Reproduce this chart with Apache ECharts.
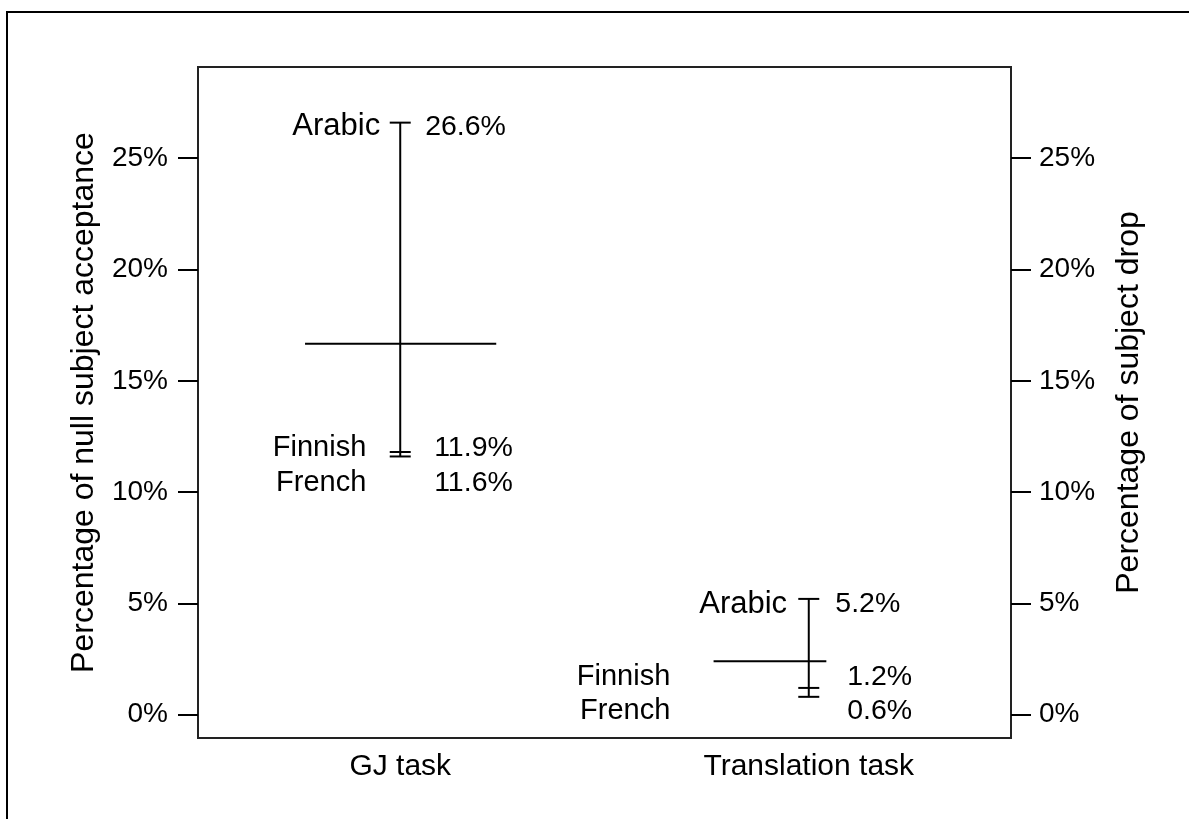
<!DOCTYPE html>
<html>
<head>
<meta charset="utf-8">
<script src="https://cdn.jsdelivr.net/npm/echarts@6/dist/echarts.min.js"></script>
<style>
  html, body { margin: 0; padding: 0; background: #fff; }
  #chart { width: 1189px; height: 819px; }
</style>
</head>
<body>
<div id="chart"></div>
<script>
// 数据
var tasks = ['GJ task', 'Translation task'];
var languages = ['Arabic', 'Finnish', 'French'];
var gjValues = [26.6, 11.8, 11.6];
var translationValues = [5.2, 1.2, 0.8];
var gjLabels = ['26.6%', '11.9%', '11.6%'];
var translationLabels = ['5.2%', '1.2%', '0.6%'];
var yTicks = [0, 5, 10, 15, 20, 25];

var FONT = 'Liberation Sans, Arial, sans-serif';
var taskValues = [gjValues, translationValues];
var taskLabels = [gjLabels, translationLabels];

function mean(arr) {
    var s = 0;
    for (var i = 0; i < arr.length; i++) { s += arr[i]; }
    return s / arr.length;
}

// error bar data: [x, v1, v2, v3, mean]
var barData = [];
for (var i = 0; i < tasks.length; i++) {
    barData.push([i + 1].concat(taskValues[i]).concat([mean(taskValues[i])]));
}
// mean line extent left / right of the task (x units)
var meanExtent = [[0.233, 0.235], [0.233, 0.043]];

// label placement (offsets from task position, y for text middle)
var namePlace = [
    { dx: [-0.049, -0.083, -0.083], y: [26.42, 11.97, 10.41] },
    { dx: [-0.053, -0.339, -0.339], y: [4.97, 1.69, 0.16] }
];
var valuePlace = [
    { dx: [0.061, 0.083, 0.083] },
    { dx: [0.065, 0.094, 0.094] }
];
var labelData = [];
for (var t = 0; t < tasks.length; t++) {
    for (var k = 0; k < languages.length; k++) {
        labelData.push([t + 1 + namePlace[t].dx[k], namePlace[t].y[k], languages[k], 'right', k === 0 ? 31 : 29]);
        labelData.push([t + 1 + valuePlace[t].dx[k], namePlace[t].y[k], taskLabels[t][k], 'left', 28.5]);
    }
}

var dom = document.getElementById('chart');
var myChart = echarts.init(dom, null, { renderer: 'canvas' });

var yAxisBase = {
    type: 'value',
    min: -1.05,
    max: 29.1,
    nameLocation: 'middle',
    nameRotate: 90,
    nameTextStyle: { color: '#000', fontSize: 32, fontFamily: FONT },
    axisLine: { show: false },
    splitLine: { show: false },
    axisTick: {
        show: true,
        inside: false,
        length: 20,
        customValues: yTicks,
        lineStyle: { color: '#000', width: 2 }
    },
    axisLabel: {
        customValues: yTicks,
        formatter: '{value}%',
        color: '#000',
        fontSize: 28,
        fontFamily: FONT
    }
};

var option = {
    backgroundColor: '#fff',
    animation: false,
    graphic: [{
        type: 'rect',
        shape: { x: 7, y: 12, width: 1400, height: 1000 },
        style: { fill: 'none', stroke: '#000', lineWidth: 2 },
        silent: true
    }],
    grid: {
        left: 198,
        top: 67,
        right: 178,
        bottom: 81,
        show: true,
        borderColor: '#222',
        borderWidth: 2,
        backgroundColor: 'transparent'
    },
    xAxis: {
        type: 'value',
        min: 0.505,
        max: 2.495,
        axisLine: { show: false },
        axisTick: { show: false },
        splitLine: { show: false },
        axisLabel: {
            customValues: [1, 2],
            formatter: function (v) { return tasks[Math.round(v) - 1]; },
            color: '#000',
            fontSize: 30,
            fontFamily: FONT,
            margin: 14
        }
    },
    yAxis: [
        echarts.util.merge({ position: 'left', name: 'Percentage of null subject acceptance', nameGap: 98,
            axisLabel: { margin: 30 } }, yAxisBase),
        echarts.util.merge({ position: 'right', name: 'Percentage of subject drop', nameGap: 102,
            axisLabel: { margin: 28 } }, yAxisBase)
    ],
    series: [
        {
            type: 'custom',
            xAxisIndex: 0,
            yAxisIndex: 0,
            data: barData,
            renderItem: function (params, api) {
                var x = api.value(0);
                var vals = [api.value(1), api.value(2), api.value(3)];
                var m = api.value(4);
                var ext = meanExtent[params.dataIndex];
                var style = { stroke: '#000', lineWidth: 2 };
                var top = api.coord([x, Math.max.apply(null, vals)]);
                var bot = api.coord([x, Math.min.apply(null, vals)]);
                var children = [{
                    type: 'line',
                    shape: { x1: top[0], y1: top[1], x2: bot[0], y2: bot[1] },
                    style: style
                }];
                for (var j = 0; j < vals.length; j++) {
                    var p = api.coord([x, vals[j]]);
                    children.push({
                        type: 'line',
                        shape: { x1: p[0] - 10.5, y1: p[1], x2: p[0] + 10.5, y2: p[1] },
                        style: style
                    });
                }
                var a = api.coord([x - ext[0], m]);
                var b = api.coord([x + ext[1], m]);
                children.push({
                    type: 'line',
                    shape: { x1: a[0], y1: a[1], x2: b[0], y2: b[1] },
                    style: style
                });
                return { type: 'group', children: children };
            }
        },
        {
            type: 'custom',
            xAxisIndex: 0,
            yAxisIndex: 0,
            data: labelData,
            renderItem: function (params, api) {
                var item = labelData[params.dataIndex];
                var p = api.coord([item[0], item[1]]);
                return {
                    type: 'text',
                    x: p[0],
                    y: p[1],
                    style: {
                        text: item[2],
                        fill: '#000',
                        fontSize: item[4],
                        fontFamily: FONT,
                        align: item[3],
                        verticalAlign: 'middle'
                    }
                };
            }
        }
    ]
};

if (option && typeof option === 'object') {
    myChart.setOption(option, true);
}
</script>
</body>
</html>
